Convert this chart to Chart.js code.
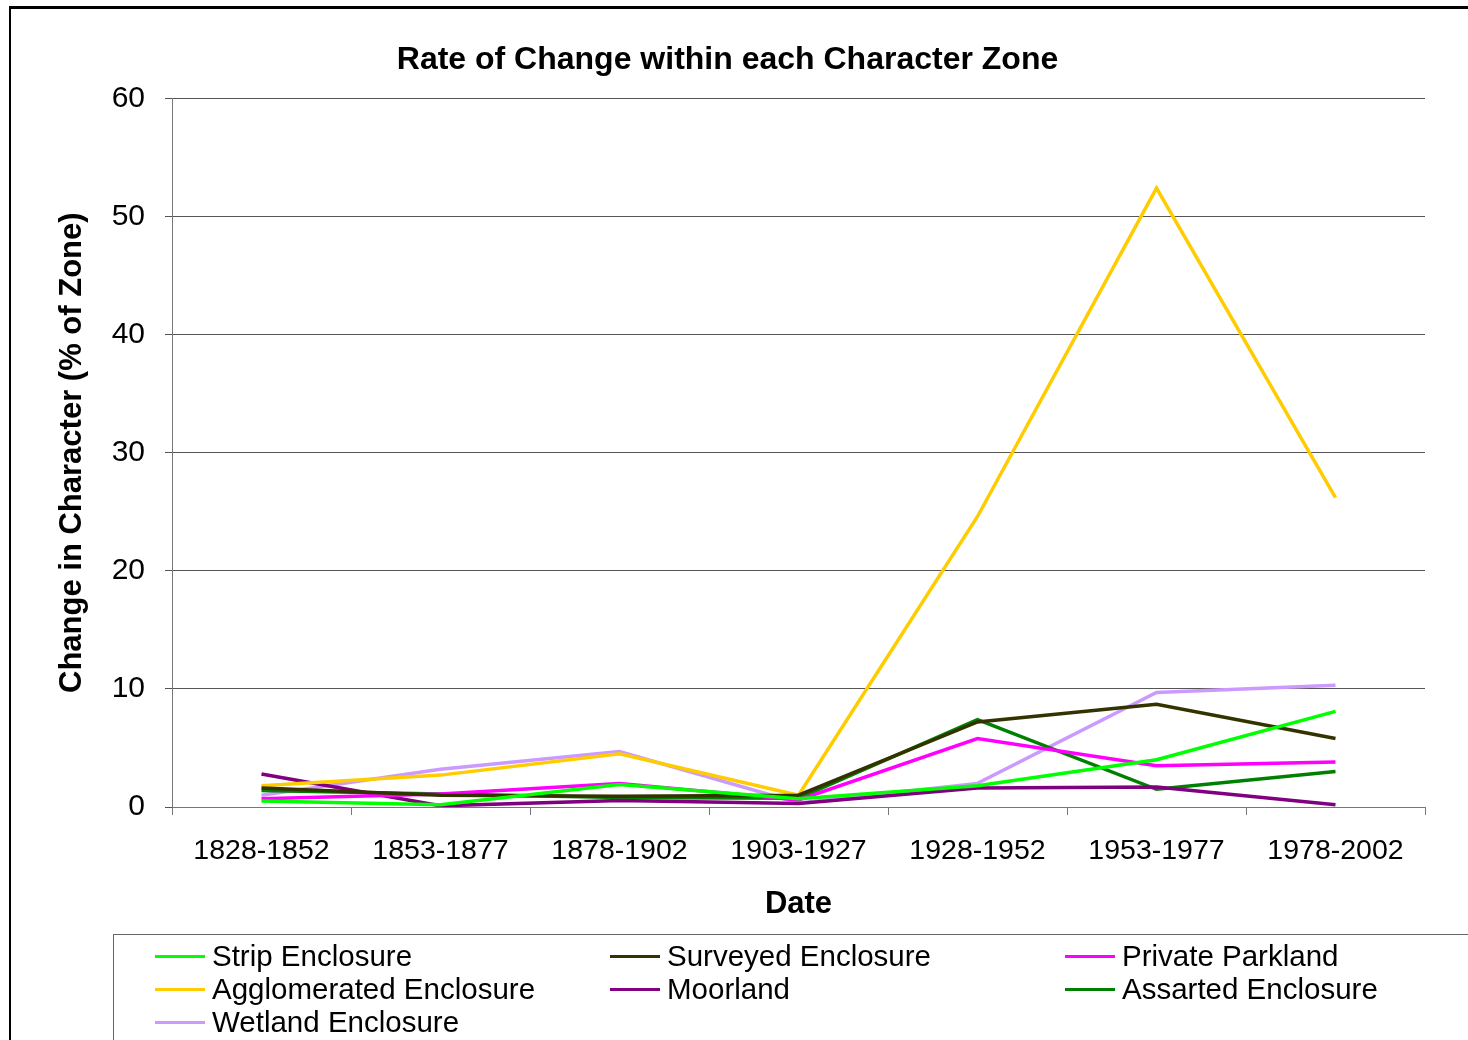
<!DOCTYPE html>
<html>
<head>
<meta charset="utf-8">
<script src="https://cdn.jsdelivr.net/npm/chart.js@4.4.1/dist/chart.umd.min.js"></script>
<style>
    body { margin: 0; background: #fff; font-family: "Liberation Sans", Arial, sans-serif; }
    #wrap { position: relative; width: 1468px; height: 1040px; overflow: hidden; }
    #frame { position: absolute; left: 9px; top: 6px; width: 1470px; height: 1050px; border-left: 2px solid #000; border-top: 3px solid #000; }
    #chart { position: absolute; left: 0; top: 0; }
    #legend { position: absolute; left: 113px; top: 934px; width: 1400px; height: 150px; border: 1px solid #666; box-sizing: border-box; }
    .item { position: absolute; display: flex; align-items: center; font-size: 29.5px; color: #000; white-space: nowrap; }
    .item span.swatch { display: inline-block; width: 50px; height: 3px; margin-right: 7px; }
</style>
</head>
<body>
<div id="wrap">
    <div id="frame"></div>
    <canvas id="chart" width="1468" height="1040"></canvas>
    <div id="legend"></div>
</div>
<script>
// Data
const periods = ['1828-1852', '1853-1877', '1878-1902', '1903-1927', '1928-1952', '1953-1977', '1978-2002'];

const stripEnclosure = [0.5, 0.2, 1.9, 0.7, 1.8, 4.0, 8.1];
const surveyedEnclosure = [1.6, 1.0, 0.9, 1.0, 7.2, 8.7, 5.8];
const privateParkland = [0.7, 1.1, 2.0, 0.6, 5.8, 3.5, 3.8];
const agglomeratedEnclosure = [1.8, 2.7, 4.5, 1.0, 24.6, 52.4, 26.2];
const moorland = [2.8, 0.1, 0.55, 0.3, 1.6, 1.7, 0.2];
const assartedEnclosure = [1.4, 1.1, 0.8, 0.75, 7.4, 1.5, 3.0];
const wetlandEnclosure = [1.0, 3.2, 4.7, 0.35, 2.0, 9.7, 10.3];

const seriesNames = ['Strip Enclosure', 'Surveyed Enclosure', 'Private Parkland', 'Agglomerated Enclosure', 'Moorland', 'Assarted Enclosure', 'Wetland Enclosure'];
const seriesData = [stripEnclosure, surveyedEnclosure, privateParkland, agglomeratedEnclosure, moorland, assartedEnclosure, wetlandEnclosure];
const seriesColors = ['#00FF00', '#333300', '#FF00FF', '#FFCC00', '#800080', '#008000', '#CC99FF'];

const yMin = 0, yMax = 60, yStep = 10;

document.addEventListener('DOMContentLoaded', function() {
    const ctx = document.getElementById('chart').getContext('2d');
    const font = '"Liberation Sans", Arial, sans-serif';

    new Chart(ctx, {
        type: 'line',
        data: {
            labels: periods,
            datasets: seriesNames.map((name, i) => ({
                label: name,
                data: seriesData[i],
                borderColor: seriesColors[i],
                backgroundColor: seriesColors[i],
                borderWidth: 3.5,
                pointRadius: 0,
                tension: 0,
                fill: false
            }))
        },
        options: {
            responsive: false,
            animation: false,
            layout: { padding: { left: 30, right: 43, top: 0, bottom: 113 } },
            plugins: {
                legend: { display: false },
                tooltip: { enabled: false },
                title: {
                    display: true,
                    text: 'Rate of Change within each Character Zone',
                    color: '#000',
                    font: { family: font, size: 32, weight: 'bold' },
                    padding: { top: 41, bottom: 19 }
                }
            },
            scales: {
                x: {
                    offset: true,
                    grid: { offset: true, drawOnChartArea: false, drawTicks: true, tickLength: 8, color: '#777' },
                    border: { color: '#777', width: 1 },
                    ticks: { color: '#000', padding: 19, font: { family: font, size: 28.5 } },
                    title: {
                        display: true,
                        text: 'Date',
                        color: '#000',
                        font: { family: font, size: 31, weight: 'bold' },
                        padding: { top: 0, bottom: 4 }
                    },
                    afterFit: scale => { scale.height = 120; }
                },
                y: {
                    min: yMin,
                    max: yMax,
                    grid: { color: '#555', tickLength: 7, drawTicks: true },
                    border: { color: '#777', width: 1 },
                    ticks: { stepSize: yStep, color: '#000', padding: 20, font: { family: font, size: 30 } },
                    title: {
                        display: true,
                        text: 'Change in Character (% of Zone)',
                        color: '#000',
                        font: { family: font, size: 31, weight: 'bold' },
                        padding: { top: 24, bottom: 0 }
                    },
                    afterFit: scale => { scale.width = 142; }
                }
            }
        }
    });

    // Legend in three columns
    const legend = document.getElementById('legend');
    const colX = [41, 496, 951];
    const rowY = [4, 37, 70];
    seriesNames.forEach((name, i) => {
        const el = document.createElement('div');
        el.className = 'item';
        el.style.left = colX[i % 3] + 'px';
        el.style.top = rowY[Math.floor(i / 3)] + 'px';
        el.innerHTML = '<span class="swatch" style="background:' + seriesColors[i] + '"></span>' + name;
        legend.appendChild(el);
    });
});
</script>
</body>
</html>
